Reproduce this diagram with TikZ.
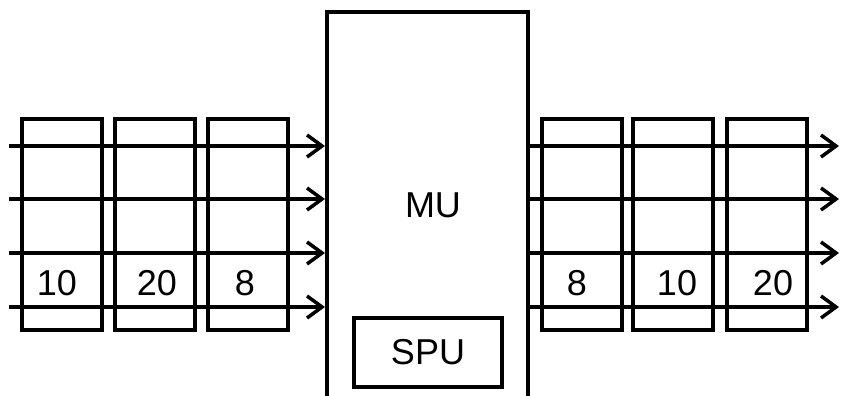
\documentclass[tikz,border=0pt]{standalone}
\usepackage{fontspec}
\setmainfont{Liberation Sans}
\usetikzlibrary{arrows.meta}
\tikzset{
  reg/.style={draw, line width=4pt, minimum width=80pt, minimum height=211pt, inner sep=0pt},
  unit/.style={draw, line width=4pt, inner sep=0pt},
  lbl/.style={font=\fontsize{36}{40}\selectfont, inner sep=0pt},
  lane/.style={line width=3.5pt, -{Straight Barb[length=15pt,width=22pt]}}
}
\begin{document}
\begin{tikzpicture}[x=1pt,y=-1pt]
\useasboundingbox (0,0) rectangle (841,396);

   % registers going in
   \node[reg] at (62,224.5)  (a1) {};
   \node[reg] at (154.5,224.5)  (a2) {};
   \node[reg] at (247.5,224.5)  (a3) {};
   \node[lbl] at (57,283)  (a1val) {10};
   \node[lbl] at (157,283)  (a2val) {20};
   \node[lbl] at (245,283)  (a3val) {8};

   % MU with its SPU
   \node[unit, minimum width=201pt, minimum height=400pt] at (427.5,212)  (mu) {};
   \node[lbl] at (433,205)  (mulbl) {MU};
   \node[unit, lbl, minimum width=148pt, minimum height=69pt] at (428,352.5)  (spu) {SPU};

   % registers going out
   \node[reg] at (581.5,224.5)  (b1) {};
   \node[reg] at (673,224.5)  (b2) {};
   \node[reg] at (767,224.5)  (b3) {};
   \node[lbl] at (577,283)  (b1val) {8};
   \node[lbl] at (677,283)  (b2val) {10};
   \node[lbl] at (773,283)  (b3val) {20};

   \coordinate (in1) at (9,146);
   \coordinate (in2) at (9,199);
   \coordinate (in3) at (9,253);
   \coordinate (in4) at (9,307);
   \coordinate (out1) at (839,146);
   \coordinate (out2) at (839,199);
   \coordinate (out3) at (839,253);
   \coordinate (out4) at (839,307);

   \draw[lane] (in1) -- (in1 -| mu.west);
   \draw[lane] (in2) -- (in2 -| mu.west);
   \draw[lane] (in3) -- (in3 -| mu.west);
   \draw[lane] (in4) -- (in4 -| mu.west);

   \draw[lane] (out1 -| mu.east) -- (out1);
   \draw[lane] (out2 -| mu.east) -- (out2);
   \draw[lane] (out3 -| mu.east) -- (out3);
   \draw[lane] (out4 -| mu.east) -- (out4);

\end{tikzpicture}
\end{document}
